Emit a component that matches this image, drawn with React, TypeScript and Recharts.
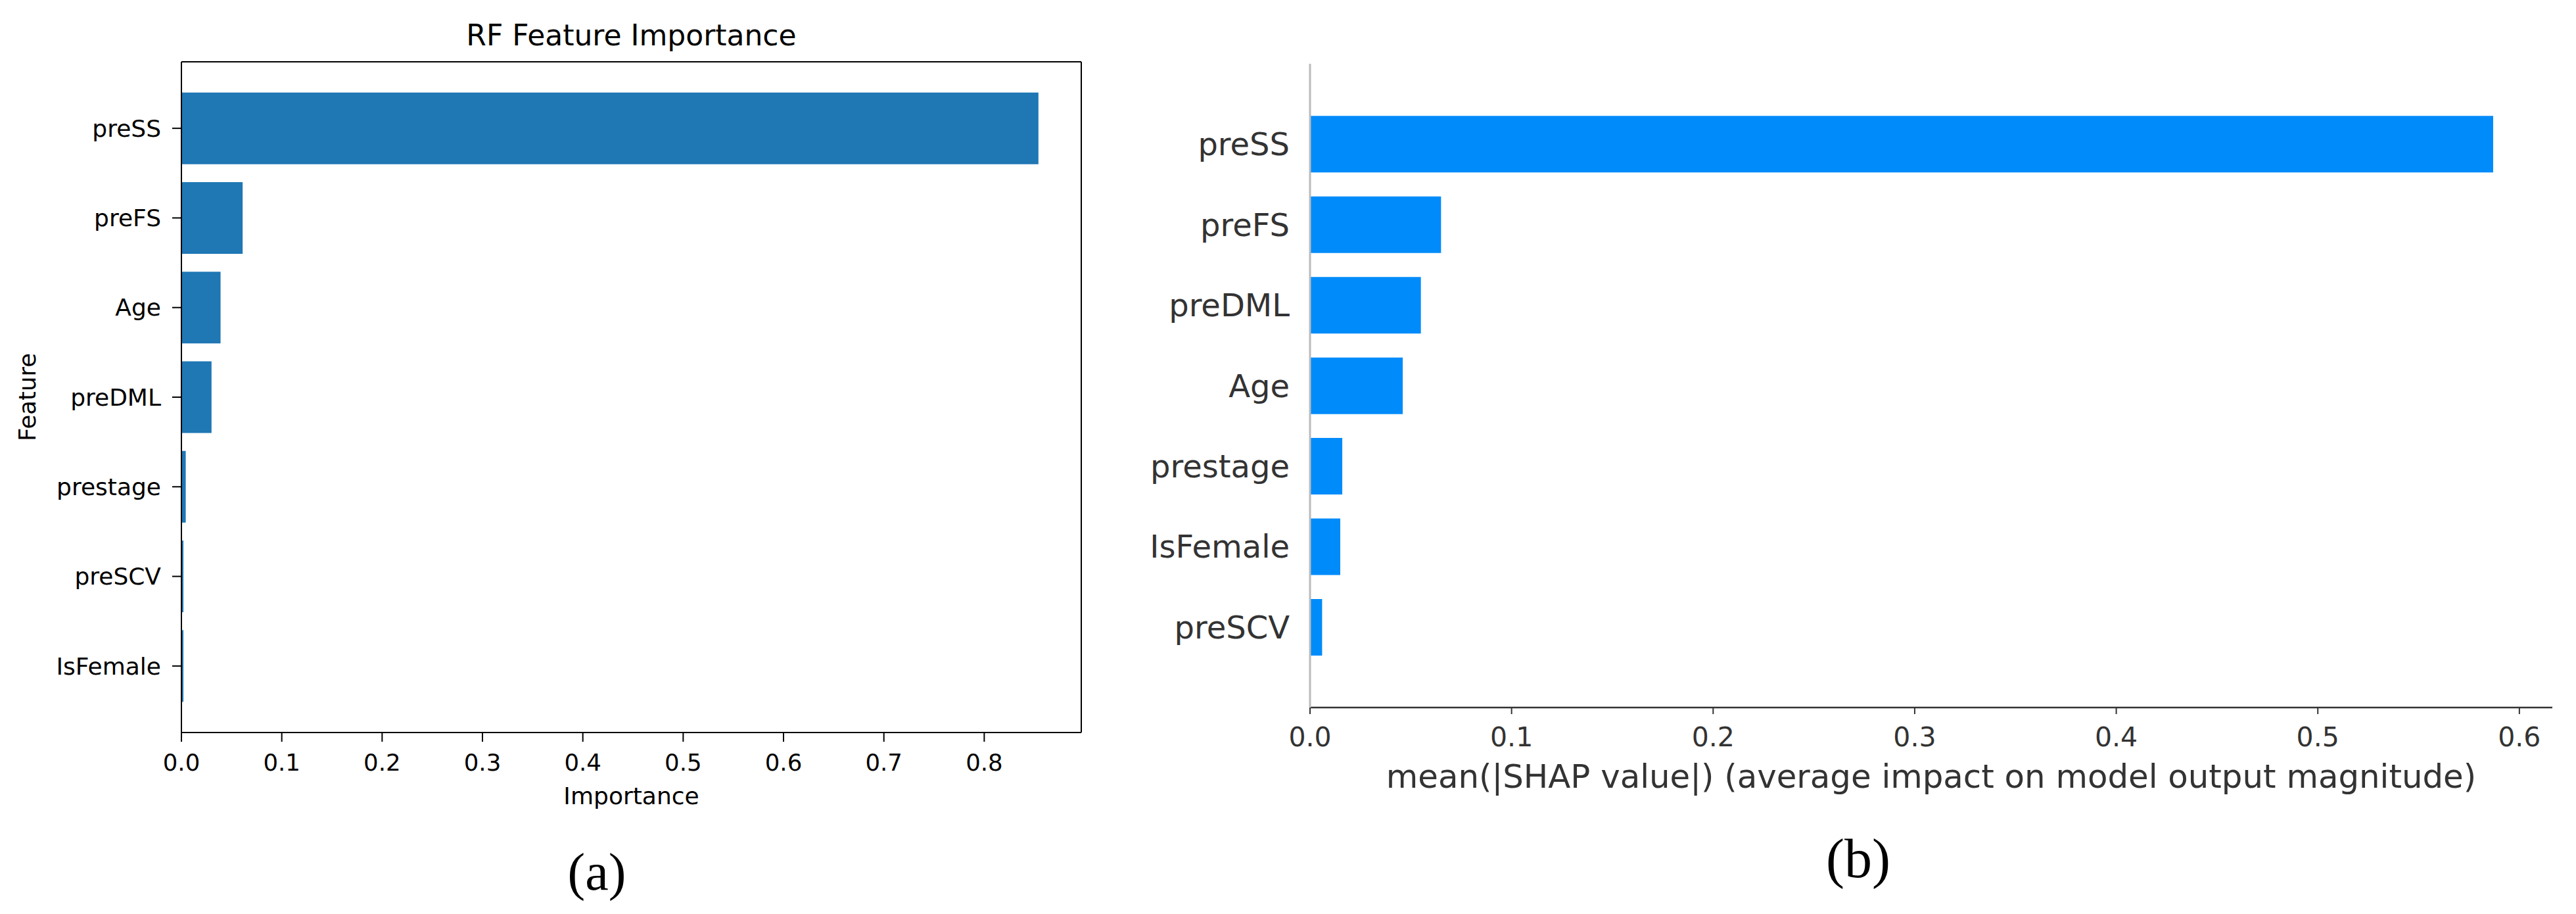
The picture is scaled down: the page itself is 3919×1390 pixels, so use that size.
import React from 'react';
import { BarChart, Bar, XAxis, YAxis, Label } from 'recharts';

// (a) Random-forest feature importance
const rfFeatures = ['preSS', 'preFS', 'Age', 'preDML', 'prestage', 'preSCV', 'IsFemale'];
const rfImportance = [0.854, 0.061, 0.039, 0.030, 0.0043, 0.002, 0.002];
const rfTicks = [0, 0.1, 0.2, 0.3, 0.4, 0.5, 0.6, 0.7, 0.8];

// (b) mean |SHAP value|
const shapFeatures = ['preSS', 'preFS', 'preDML', 'Age', 'prestage', 'IsFemale', 'preSCV'];
const shapValues = [0.587, 0.065, 0.055, 0.046, 0.016, 0.015, 0.006];
const shapTicks = [0, 0.1, 0.2, 0.3, 0.4, 0.5, 0.6];

const rfData = rfFeatures.map((f, i) => ({ feature: f, value: rfImportance[i] }));
const shapData = shapFeatures.map((f, i) => ({ feature: f, value: shapValues[i] }));
const rfMax = Math.max(...rfImportance) * 1.05;
const shapMax = Math.max(...shapValues) * 1.05;

const FONT = '"DejaVu Sans", sans-serif';
const fmt = (v: number) => v.toFixed(1);

const featureLabel = (props: any) => {
  const vb = props.viewBox || {};
  const cx = vb.x + 41;
  const cy = vb.y + vb.height / 2;
  return (
    <text
      x={cx}
      y={cy}
      transform={`rotate(-90 ${cx} ${cy})`}
      textAnchor="middle"
      dominantBaseline="central"
      fontFamily={FONT}
      fontSize={35.5}
      fill="#000"
    >
      Feature
    </text>
  );
};

export default function App() {
  return (
    <div
      style={{
        position: 'absolute',
        left: 0,
        top: 0,
        width: 3919,
        height: 1390,
        background: '#fff',
        fontFamily: FONT,
        overflow: 'hidden',
      }}
    >
      <div style={{ position: 'absolute', left: 0, top: 0 }}>
        <BarChart
          width={1700}
          height={1390}
          data={rfData}
          layout="vertical"
          margin={{ top: 0, right: 54, bottom: 0, left: 0 }}
        >
          <XAxis
            xAxisId="top"
            orientation="top"
            type="number"
            domain={[0, 1]}
            height={94}
            tick={false}
            tickLine={false}
            axisLine={{ stroke: '#000', strokeWidth: 2 }}
          >
            <Label
              value="RF Feature Importance"
              position="insideTop"
              offset={38}
              style={{ fontFamily: FONT, fontSize: 44, fill: '#000' }}
            />
          </XAxis>
          <XAxis
            type="number"
            domain={[0, rfMax]}
            ticks={rfTicks}
            tickFormatter={fmt}
            height={276}
            tickSize={14}
            tickMargin={19}
            interval={0}
            axisLine={{ stroke: '#000', strokeWidth: 2 }}
            tickLine={{ stroke: '#000', strokeWidth: 2 }}
            tick={{ fontFamily: FONT, fontSize: 35.5, fill: '#000' }}
          >
            <Label
              value="Importance"
              position="insideTop"
              offset={83}
              style={{ fontFamily: FONT, fontSize: 36, fill: '#000' }}
            />
          </XAxis>
          <YAxis
            type="category"
            dataKey="feature"
            width={276}
            padding={{ top: 33, bottom: 33 }}
            interval={0}
            tickSize={14}
            tickMargin={17}
            axisLine={{ stroke: '#000', strokeWidth: 2 }}
            tickLine={{ stroke: '#000', strokeWidth: 2 }}
            tick={{ fontFamily: FONT, fontSize: 36, fill: '#000' }}
          >
            <Label content={featureLabel} />
          </YAxis>
          <YAxis
            yAxisId="right"
            orientation="right"
            type="number"
            domain={[0, 1]}
            width={1}
            tick={false}
            tickLine={false}
            axisLine={{ stroke: '#000', strokeWidth: 2 }}
          />
          <Bar dataKey="value" fill="#1f77b4" barCategoryGap="10%" isAnimationActive={false} />
        </BarChart>
      </div>

      <div style={{ position: 'absolute', left: 1700, top: 0 }}>
        <BarChart
          width={2219}
          height={1390}
          data={shapData}
          layout="vertical"
          barCategoryGap="15%"
          margin={{ top: 97, right: 36, bottom: 0, left: 0 }}
        >
          <XAxis
            type="number"
            domain={[0, shapMax]}
            ticks={shapTicks}
            tickFormatter={fmt}
            height={314}
            tickSize={10}
            tickMargin={20}
            interval={0}
            axisLine={{ stroke: '#333', strokeWidth: 2.5 }}
            tickLine={{ stroke: '#333', strokeWidth: 2 }}
            tick={{ fontFamily: FONT, fontSize: 41, fill: '#333' }}
          >
            <Label
              value="mean(|SHAP value|) (average impact on model output magnitude)"
              position="insideTop"
              offset={87}
              style={{ fontFamily: FONT, fontSize: 49.8, fill: '#333' }}
            />
          </XAxis>
          <YAxis
            type="category"
            dataKey="feature"
            width={293}
            padding={{ top: 61, bottom: 61 }}
            interval={0}
            tickSize={0}
            tickLine={false}
            tickMargin={31}
            axisLine={{ stroke: '#bbb', strokeWidth: 3 }}
            tick={{ fontFamily: FONT, fontSize: 48, fill: '#333' }}
          />
          <Bar dataKey="value" fill="#008bfb" isAnimationActive={false} />
        </BarChart>
      </div>

      <div
        style={{
          position: 'absolute',
          left: 808,
          top: 1286,
          width: 200,
          textAlign: 'center',
          fontFamily: '"Liberation Serif", serif',
          fontSize: 80,
          lineHeight: 1,
          color: '#000',
        }}
      >
        (a)
      </div>
      <div
        style={{
          position: 'absolute',
          left: 2727,
          top: 1264,
          width: 200,
          textAlign: 'center',
          fontFamily: '"Liberation Serif", serif',
          fontSize: 84,
          lineHeight: 1,
          color: '#000',
        }}
      >
        (b)
      </div>
    </div>
  );
}
